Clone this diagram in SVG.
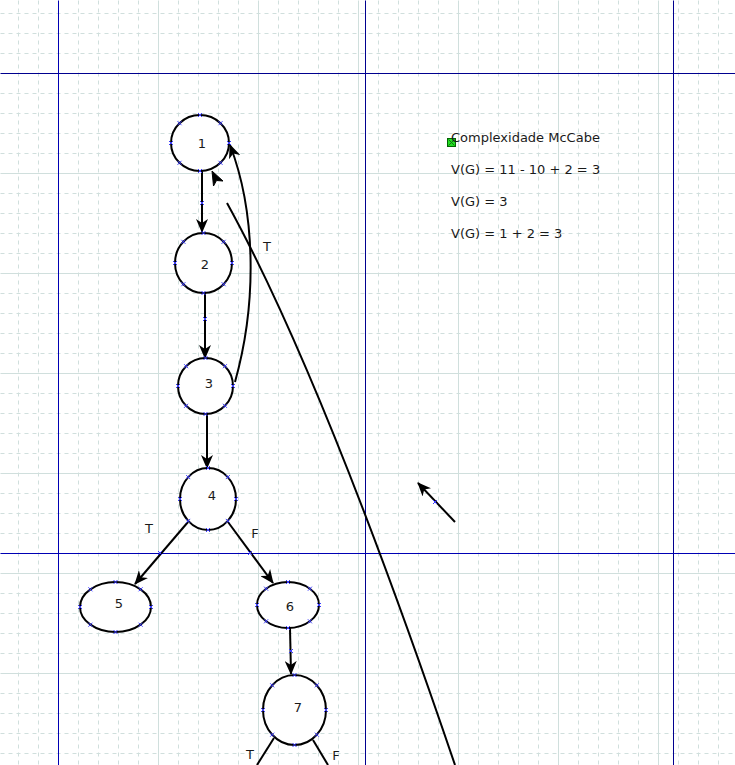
<svg xmlns="http://www.w3.org/2000/svg" xmlns:xlink="http://www.w3.org/1999/xlink" width="735" height="765" viewBox="0 0 735 765">
<style>
.gd{stroke:#d0dfdd;stroke-width:1;stroke-dasharray:4 4;fill:none}
.gs{stroke:#d0dfdd;stroke-width:1;fill:none}
.pg{stroke:#00008f;stroke-width:1;fill:none}
.pb{stroke:#0000b4;stroke-width:1;fill:none}
.nd{fill:#fff;stroke:#000;stroke-width:2}
.lb{font-family:"DejaVu Sans",sans-serif;font-size:13px;fill:#1a1a1a;text-anchor:middle;dominant-baseline:central}
.tx{font-family:"DejaVu Sans",sans-serif;font-size:13px;fill:#1a1a1a}
.ed{stroke:#000;stroke-width:2;fill:none}
.xm{stroke:#3b3bff;stroke-width:1;fill:none}
</style>
<defs>
<marker id="ah" viewBox="0 0 14 12" refX="13" refY="6" markerWidth="14" markerHeight="12" markerUnits="userSpaceOnUse" orient="auto">
<path d="M0,0 L14,6 L0,12 L4,6 Z" fill="#000"/>
</marker>
<path id="x" class="xm" d="M-2,-2L2,2M-2,2L2,-2"/>
</defs>
<rect width="735" height="765" fill="#fff"/>
<g id="grid" transform="translate(0.5,0.5)">
<path class="gd" d="M18,0V765M38,0V765M78,0V765M98,0V765M118,0V765M138,0V765M178,0V765M198,0V765M218,0V765M238,0V765M278,0V765M298,0V765M318,0V765M338,0V765M378,0V765M398,0V765M418,0V765M438,0V765M478,0V765M498,0V765M518,0V765M538,0V765M578,0V765M598,0V765M618,0V765M638,0V765M678,0V765M698,0V765M718,0V765"/>
<path class="gd" d="M0,13H735M0,33H735M0,53H735M0,93H735M0,113H735M0,133H735M0,153H735M0,193H735M0,213H735M0,233H735M0,253H735M0,293H735M0,313H735M0,333H735M0,353H735M0,393H735M0,413H735M0,433H735M0,453H735M0,493H735M0,513H735M0,533H735M0,553H735M0,593H735M0,613H735M0,633H735M0,653H735M0,693H735M0,713H735M0,733H735M0,753H735"/>
<path class="gs" d="M158,0V765M258,0V765M358,0V765M458,0V765M558,0V765M658,0V765M0,173H735M0,273H735M0,373H735M0,473H735M0,573H735M0,673H735"/>
<path class="pg" d="M365,0V765M673,0V765M0,73H735"/>
<path class="pb" d="M58,0V765M0,553H735"/>
</g>
<g id="connectors">
<path class="ed" d="M202,171 L202,232" marker-end="url(#ah)"/>
<path class="ed" d="M205,279 L205,358" marker-end="url(#ah)"/>
<path class="ed" d="M207,414 L207,468" marker-end="url(#ah)"/>
<path class="ed" d="M188,522 L135,584" marker-end="url(#ah)"/>
<path class="ed" d="M228,522 L273,583" marker-end="url(#ah)"/>
<path class="ed" d="M290,628 L291,674" marker-end="url(#ah)"/>
<path class="ed" d="M235,382 C258,300 255,210 230,145" marker-end="url(#ah)"/>
<path class="ed" d="M455,765 Q323.7,378.8 227,203"/>
<polygon points="212,171 223,181 216.5,180.5 213.5,186" fill="#000" stroke="#000" stroke-width="1"/>
<path class="ed" d="M455,522 L418,483" marker-end="url(#ah)"/>
<path class="ed" d="M274,738 L257,765"/>
<path class="ed" d="M313,740 L328,765"/>
<use href="#x" x="202" y="203"/>
<use href="#x" x="205" y="319"/>
<use href="#x" x="160" y="553"/>
<use href="#x" x="250" y="553"/>
<use href="#x" x="291" y="651"/>
<use href="#x" x="435" y="502"/>
<text class="lb" x="267" y="246">T</text>
<text class="lb" x="149" y="528">T</text>
<text class="lb" x="255" y="533">F</text>
<text class="lb" x="250" y="754">T</text>
<text class="lb" x="336" y="755">F</text>
</g>
<g id="node1">
<ellipse class="nd" cx="200" cy="143" rx="29" ry="28"/>
<text class="lb" x="202" y="143">1</text>
<use href="#x" x="171" y="143"/><use href="#x" x="229" y="143"/><use href="#x" x="200" y="115"/><use href="#x" x="200" y="171"/><use href="#x" x="220.5" y="123.2"/><use href="#x" x="179.5" y="123.2"/><use href="#x" x="220.5" y="162.8"/><use href="#x" x="179.5" y="162.8"/>
</g>
<g id="node2">
<ellipse class="nd" cx="203.5" cy="263" rx="28.5" ry="30"/>
<text class="lb" x="205" y="264">2</text>
<use href="#x" x="175" y="263"/><use href="#x" x="232" y="263"/><use href="#x" x="203.5" y="233"/><use href="#x" x="203.5" y="293"/><use href="#x" x="223.6" y="241.8"/><use href="#x" x="183.4" y="241.8"/><use href="#x" x="223.6" y="284.2"/><use href="#x" x="183.4" y="284.2"/>
</g>
<g id="node3">
<ellipse class="nd" cx="205.5" cy="386" rx="27.5" ry="28"/>
<text class="lb" x="209" y="383">3</text>
<use href="#x" x="178" y="386"/><use href="#x" x="233" y="386"/><use href="#x" x="205.5" y="358"/><use href="#x" x="205.5" y="414"/><use href="#x" x="224.9" y="366.2"/><use href="#x" x="186.1" y="366.2"/><use href="#x" x="224.9" y="405.8"/><use href="#x" x="186.1" y="405.8"/>
</g>
<g id="node4">
<ellipse class="nd" cx="208" cy="499" rx="28" ry="31"/>
<text class="lb" x="212" y="495">4</text>
<use href="#x" x="180" y="499"/><use href="#x" x="236" y="499"/><use href="#x" x="208" y="468"/><use href="#x" x="208" y="530"/><use href="#x" x="227.8" y="477.1"/><use href="#x" x="188.2" y="477.1"/><use href="#x" x="227.8" y="520.9"/><use href="#x" x="188.2" y="520.9"/>
</g>
<g id="node5">
<ellipse class="nd" cx="115.5" cy="607" rx="35.5" ry="25"/>
<text class="lb" x="119" y="603">5</text>
<use href="#x" x="80" y="607"/><use href="#x" x="151" y="607"/><use href="#x" x="115.5" y="582"/><use href="#x" x="115.5" y="632"/><use href="#x" x="140.6" y="589.3"/><use href="#x" x="90.4" y="589.3"/><use href="#x" x="140.6" y="624.7"/><use href="#x" x="90.4" y="624.7"/>
</g>
<g id="node6">
<ellipse class="nd" cx="288" cy="605" rx="31" ry="23"/>
<text class="lb" x="290" y="606">6</text>
<use href="#x" x="257" y="605"/><use href="#x" x="319" y="605"/><use href="#x" x="288" y="582"/><use href="#x" x="288" y="628"/><use href="#x" x="309.9" y="588.7"/><use href="#x" x="266.1" y="588.7"/><use href="#x" x="309.9" y="621.3"/><use href="#x" x="266.1" y="621.3"/>
</g>
<g id="node7">
<ellipse class="nd" cx="294.5" cy="710" rx="31.5" ry="35"/>
<text class="lb" x="298" y="707">7</text>
<use href="#x" x="263" y="710"/><use href="#x" x="326" y="710"/><use href="#x" x="294.5" y="675"/><use href="#x" x="294.5" y="745"/><use href="#x" x="316.8" y="685.3"/><use href="#x" x="272.2" y="685.3"/><use href="#x" x="316.8" y="734.7"/><use href="#x" x="272.2" y="734.7"/>
</g>
<g id="complexity">
<rect x="447.5" y="138.5" width="8" height="8" fill="#22dd22" stroke="#006600" stroke-width="1"/>
<path d="M448.5,139.5L454.5,145.5M448.5,145.5L454.5,139.5" stroke="#117711" stroke-width="1"/>
<text class="tx" x="451" y="141.5">Complexidade McCabe</text>
<text class="tx" x="451" y="173.5">V(G) = 11 - 10 + 2 = 3</text>
<text class="tx" x="451" y="205.5">V(G) = 3</text>
<text class="tx" x="451" y="237.5">V(G) = 1 + 2 = 3</text>
</g>
</svg>
